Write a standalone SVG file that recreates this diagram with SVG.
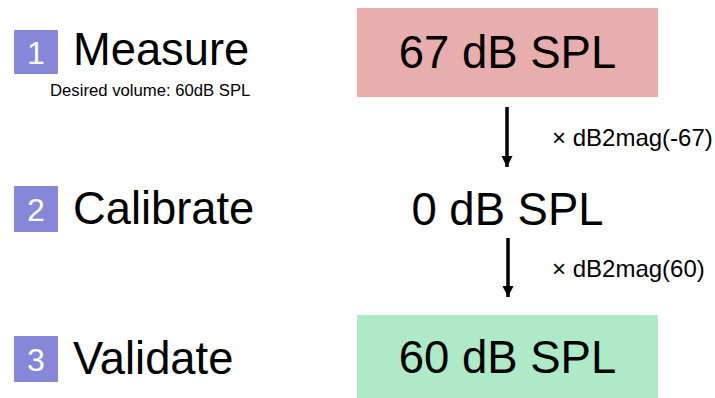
<svg xmlns="http://www.w3.org/2000/svg" width="715" height="398" viewBox="0 0 715 398">
  <style>
    text { font-family: "Liberation Sans", Arial, sans-serif; fill: #000; }
    .badge { fill: #8787d9; }
    .num { fill: #fff; font-size: 32px; text-anchor: middle; }
    .step { font-size: 45.3px; }
    .level { font-size: 45.5px; text-anchor: middle; }
    .op { font-size: 24px; }
    .note { font-size: 16.7px; }
    .shaft { stroke: #000; stroke-width: 3.5; fill: none; }
  </style>
  <defs>
    <marker id="head" viewBox="0 0 10 10" refX="10" refY="5" markerWidth="3.2" markerHeight="3.2" orient="auto" markerUnits="strokeWidth">
      <path d="M0,0 L10,5 L0,10 Z" fill="#000"/>
    </marker>
  </defs>
  <rect width="715" height="398" fill="#fff"/>

  <!-- steps on the left -->
  <g id="step-measure">
    <rect class="badge" x="14" y="30" width="44" height="44"/>
    <text class="num" x="36" y="64">1</text>
    <text class="step" x="73" y="65">Measure</text>
    <text class="note" x="50" y="96">Desired volume: 60dB SPL</text>
  </g>
  <g id="step-calibrate">
    <rect class="badge" x="14" y="186" width="44" height="46"/>
    <text class="num" x="36" y="221">2</text>
    <text class="step" x="73" y="224">Calibrate</text>
  </g>
  <g id="step-validate">
    <rect class="badge" x="14" y="336" width="44" height="46"/>
    <text class="num" x="36" y="371">3</text>
    <text class="step" x="73" y="374">Validate</text>
  </g>

  <!-- levels on the right -->
  <g id="level-measured">
    <rect x="357" y="8" width="301" height="89" fill="#e8adad"/>
    <text class="level" x="507.5" y="68">67 dB SPL</text>
  </g>
  <g id="level-calibrated">
    <text class="level" x="507.5" y="225">0 dB SPL</text>
  </g>
  <g id="level-validated">
    <rect x="357" y="315" width="301" height="89" fill="#aee9c8"/>
    <text class="level" x="507.5" y="373">60 dB SPL</text>
  </g>

  <!-- gain steps between levels -->
  <g id="connectors">
    <line class="shaft" x1="507" y1="107" x2="507" y2="167" marker-end="url(#head)"/>
    <text class="op" x="552" y="146">× dB2mag(-67)</text>
    <line class="shaft" x1="508" y1="238" x2="508" y2="297" marker-end="url(#head)"/>
    <text class="op" x="552" y="277">× dB2mag(60)</text>
  </g>
</svg>
